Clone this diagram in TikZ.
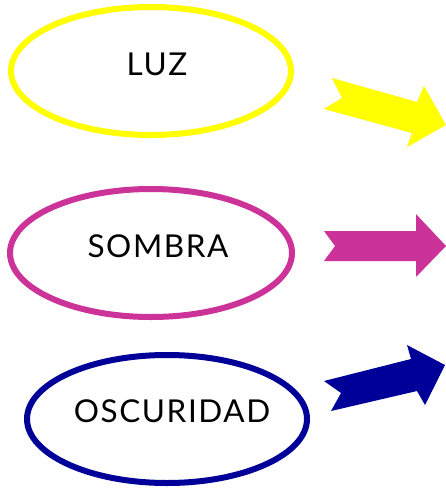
\documentclass[tikz,border=0pt]{standalone}
\usepackage{fontspec}
\setmainfont[LetterSpace=5]{Lato}
\definecolor{luzc}{RGB}{255,255,0}
\definecolor{sombc}{RGB}{204,51,153}
\definecolor{oscc}{RGB}{0,0,153}
\begin{document}
\begin{tikzpicture}[x=1pt,y=-1pt,
  ring/.style={draw=#1,line width=6pt},
  lbl/.style={font=\fontsize{31.5}{33}\selectfont,text=black}]
\useasboundingbox (0,0) rectangle (446,491);
\draw[ring=luzc] (151,71) ellipse [x radius=140, y radius=64];
\node[lbl] (luz) at (157,64) {LUZ};
\draw[ring=sombc] (151,253) ellipse [x radius=141, y radius=64];
\node[lbl] (sombra) at (158,246) {SOMBRA};
\draw[ring=oscc] (167,419) ellipse [x radius=140, y radius=64];
\node[lbl] (osc) at (172,411) {OSCURIDAD};
\fill[luzc] (332,78) -- (342,98) -- (324,109) -- (412,133) -- (407,147) -- (446,125) -- (424,86) -- (417,102) -- cycle;
\fill[sombc] (324,231) -- (335,246) -- (324,261) -- (416,261) -- (416,277) -- (446,246) -- (416,214) -- (416,231) -- cycle;
\fill[oscc] (324,381) -- (341,393) -- (331,411) -- (417,391) -- (425,405) -- (445,365) -- (407,345) -- (411,359) -- cycle;
\end{tikzpicture}
\end{document}
